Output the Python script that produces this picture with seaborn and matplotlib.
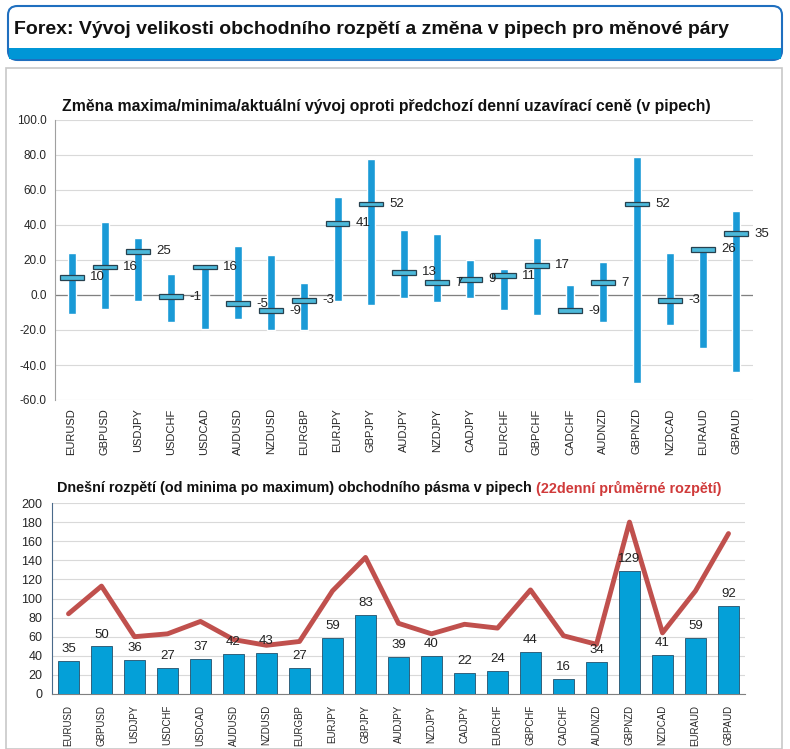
import numpy as np
import pandas as pd
import matplotlib
matplotlib.use("Agg")
import matplotlib.pyplot as plt
from matplotlib.patches import FancyBboxPatch, Rectangle
import seaborn as sns

pairs = ["EURUSD", "GBPUSD", "USDJPY", "USDCHF", "USDCAD", "AUDUSD", "NZDUSD",
         "EURGBP", "EURJPY", "GBPJPY", "AUDJPY", "NZDJPY", "CADJPY", "EURCHF",
         "GBPCHF", "CADCHF", "AUDNZD", "GBPNZD", "NZDCAD", "EURAUD", "GBPAUD"]

# change vs previous daily close (pips)
day_high = [24, 41.5, 32.5, 12, 16, 28, 23, 7, 56, 77.5,
            37, 35, 20, 15, 32.5, 5.5, 19, 79, 24, 27.5, 48]
day_low = [-11, -8, -3.5, -15.5, -19.5, -14, -20, -20, -3.5, -5.5,
           -2, -4, -2, -8.5, -11.5, -9, -15.5, -50, -17, -30.5, -44]
current = [10, 16, 25, -1, 16, -5, -9, -3, 41, 52,
           13, 7, 9, 11, 17, -9, 7, 52, -3, 26, 35]

# today's range and 22-day average range
today_range = [35, 50, 36, 27, 37, 42, 43, 27, 59, 83,
               39, 40, 22, 24, 44, 16, 34, 129, 41, 59, 92]
avg_range = [84, 113, 60, 63, 76, 57, 51, 55, 108, 143,
             74, 63, 73, 69, 109, 61, 52, 180, 64, 108, 168]

df = pd.DataFrame({"pair": pairs, "high": day_high, "low": day_low,
                   "cur": current, "rng": today_range, "avg": avg_range})
df["span"] = df["high"] - df["low"]
df["mark_h"] = 2.8
df["mark_b"] = df["cur"] - 1.4

sns.set_style("white")
plt.rcParams["font.family"] = ["Liberation Sans", "DejaVu Sans"]

fig = plt.figure(figsize=(7.9, 7.49), dpi=100)
W, H = 790, 749

# header box
fig.patches.append(FancyBboxPatch((8 / W, 1 - 60 / H), 774 / W, 54 / H,
                                  boxstyle="round,pad=0,rounding_size=0.012",
                                  transform=fig.transFigure, fc="white",
                                  ec="#1f6fbf", lw=1.5, zorder=-2))
fig.patches.append(Rectangle((9 / W, 1 - 59 / H), 772 / W, 11 / H,
                             transform=fig.transFigure, fc="#0096d6", ec="none",
                             zorder=-1))
fig.text(14 / W, 1 - 30 / H,
         "Forex: Vývoj velikosti obchodního rozpětí a změna v pipech pro měnové páry",
         fontsize=14, fontweight="bold", va="center", ha="left", color="#111111")

# content panel
fig.patches.append(Rectangle((6 / W, 0), 776 / W, 1 - 68 / H,
                             transform=fig.transFigure, fc="white",
                             ec="#c8c8c8", lw=1.2, zorder=-2))

# ---- top chart ----
ax1 = fig.add_axes([55 / W, 1 - 400 / H, 698 / W, 280 / H])
ax1.set_facecolor("none")
sns.barplot(data=df, x="pair", y="span", bottom=df["low"], color="#1a9ad6",
            width=0.24, saturation=1, ax=ax1, zorder=3)
sns.barplot(data=df, x="pair", y="mark_h", bottom=df["mark_b"], color="#4cb9da",
            width=0.72, saturation=1, edgecolor="#27414f", linewidth=0.9,
            ax=ax1, zorder=4)
for i, v in enumerate(current):
    ax1.text(i + 0.55, v, f"{v}", fontsize=9.5, va="center", ha="left",
             color="#222222", zorder=5)
ax1.set_ylim(-60, 100)
ax1.set_yticks(np.arange(-60, 101, 20))
ax1.set_yticklabels([f"{t:.1f}" for t in np.arange(-60, 101, 20)], fontsize=8.5)
ax1.set_xlim(-0.5, len(pairs) - 0.5)
ax1.grid(axis="y", color="#d9d9d9", lw=0.8, zorder=0)
ax1.axhline(0, color="#808080", lw=0.9, zorder=1)
for s in ["top", "right", "bottom"]:
    ax1.spines[s].set_visible(False)
ax1.spines["left"].set_color("#a0a0a0")
ax1.set_xlabel("")
ax1.set_ylabel("")
ax1.tick_params(axis="x", labelrotation=90, labelsize=8, length=0, pad=6)
ax1.tick_params(axis="y", length=0, pad=6)
fig.text(62 / W, 1 - 107 / H,
         "Změna maxima/minima/aktuální vývoj oproti předchozí denní uzavírací ceně (v pipech)",
         fontsize=11.3, fontweight="bold", va="center", ha="left", color="#111111")

# ---- bottom chart ----
ax2 = fig.add_axes([52 / W, 1 - 694 / H, 693 / W, 191 / H])
ax2.set_facecolor("none")
sns.barplot(data=df, x="pair", y="rng", color="#04a0d8", width=0.62,
            saturation=1, edgecolor="#24506a", linewidth=0.6, ax=ax2, zorder=3)
sns.lineplot(data=df, x="pair", y="avg", sort=False, color="#c0504d", lw=3.5,
             ax=ax2, zorder=4)
for i, v in enumerate(today_range):
    ax2.text(i, v + 6, f"{v}", fontsize=9.5, va="bottom", ha="center",
             color="#222222", zorder=5)
ax2.set_ylim(0, 200)
ax2.set_yticks(np.arange(0, 201, 20))
ax2.set_xlim(-0.5, len(pairs) - 0.5)
ax2.grid(axis="y", color="#d9d9d9", lw=0.8, zorder=0)
for s in ["top", "right"]:
    ax2.spines[s].set_visible(False)
ax2.spines["left"].set_color("#4a6a8a")
ax2.spines["bottom"].set_color("#808080")
ax2.set_xticks(np.arange(len(pairs) + 1) - 0.5, minor=True)
ax2.tick_params(axis="x", which="major", labelrotation=90, labelsize=7,
                length=0, pad=8)
ax2.tick_params(axis="x", which="minor", length=4, color="#808080")
ax2.tick_params(axis="y", labelsize=9, length=4, color="#4a6a8a", pad=3)
ax2.set_xlabel("")
ax2.set_ylabel("")

t1 = fig.text(57 / W, 1 - 488 / H,
              "Dnešní rozpětí (od minima po maximum) obchodního pásma v pipech ",
              fontsize=10.4, fontweight="bold", va="center", ha="left", color="#111111")
ax2.annotate("(22denní průměrné rozpětí)", xy=(1.0, 0.5), xycoords=t1,
             va="center", ha="left", fontsize=10.4, fontweight="bold",
             color="#d03a3a", annotation_clip=False)

fig.savefig("out.png", dpi=100)
